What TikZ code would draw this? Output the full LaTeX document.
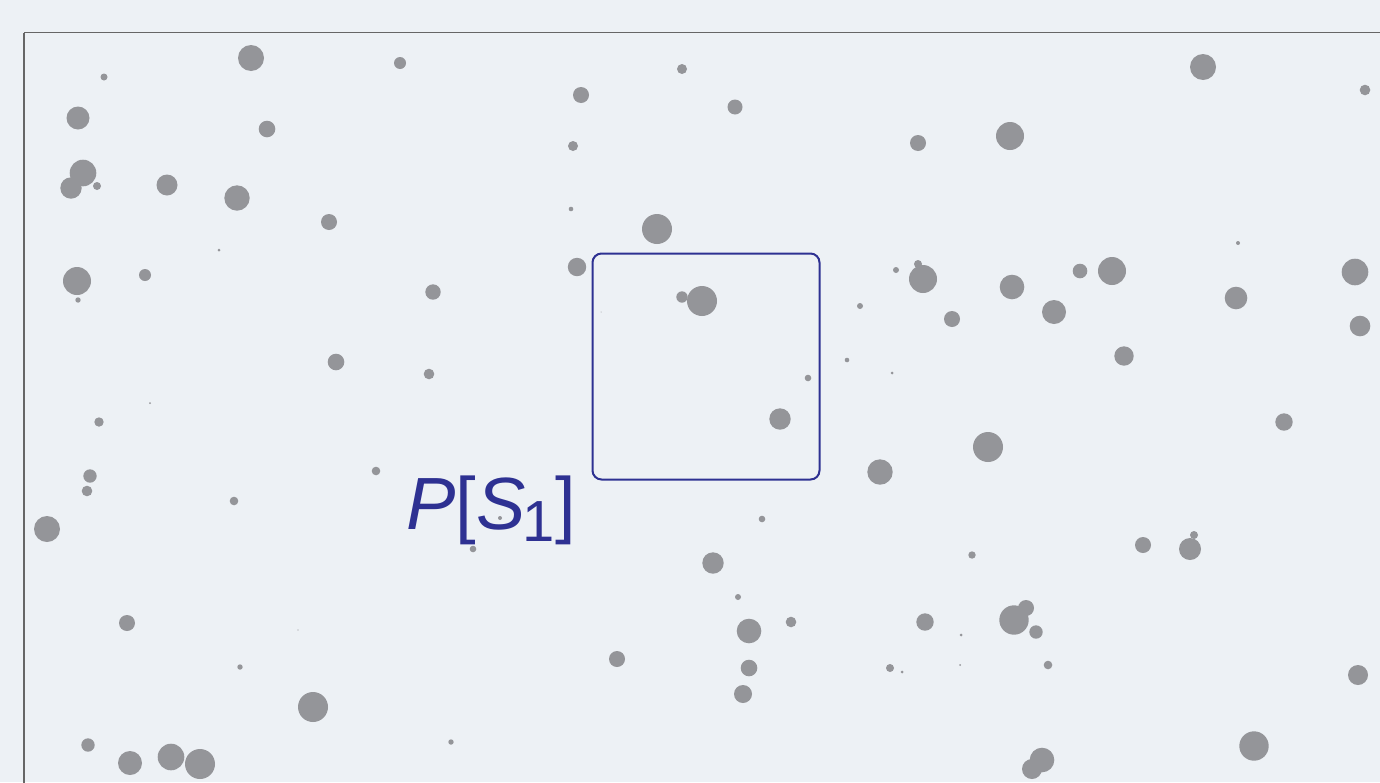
\documentclass[tikz,border=0pt]{standalone}
\usepackage{fontspec}
\setmainfont{Liberation Sans}
\usepackage{xcolor}
\usepackage{tikz}
\usetikzlibrary{positioning}

\definecolor{paper}{HTML}{EDF1F5}
\definecolor{dotgray}{HTML}{949599}
\definecolor{framegray}{HTML}{666666}
\definecolor{setblue}{HTML}{2E3192}

\begin{document}
\begin{tikzpicture}[
			x=1pt, y=-1pt,
			dot/.style={fill=dotgray},
			frame/.style={draw=framegray, line width=1.3pt},
			region/.style={draw=setblue, line width=2pt, rounded corners=9pt, inner sep=0pt},
			setlabel/.style={text=setblue, inner sep=0pt, anchor=base west, font=\fontsize{74}{80}\selectfont}
			]
			\useasboundingbox[fill=paper] (0,0) rectangle (1380,782);
			\draw[frame] (24,32.5) -- (1400,32.5);
			\draw[frame] (24,32.5) -- (24,800);
			
			% the points
			\foreach \x/\y/\r in {
				104/77/3.5, 251/58/13, 400/63/6, 78/118/11.5, 267/129/8.3,
				83/173/13.3, 71/188/10.7, 97/186/4, 167/185/10.5, 237/198/12.7,
				329/222/8, 219/250/1.5, 77/281/14, 78/300/2.7, 145/275/6,
				433/292/7.7, 336/362/8.3, 429/374/5.3,
				682/69/5, 581/95/8, 735/107/7.5, 573/146/5, 571/209/2.3,
				657/229/15, 577/267/9.2, 702/301/15, 682/297/5.7, 601/312/0.5,
				808/378/3.3, 860/306/3, 896/270/3, 847/360/2.3, 892/373/1.5,
				1203/67/13, 1365/90/5.3, 1010/136/14, 918/143/8, 1238/243/2,
				1112/271/14, 1080/271/7.3, 923/279/14, 918/264/4, 1012/287/12.3,
				952/319/8, 1054/312/12, 1236/298/11.3, 1355/272/13.3, 1360/326/10.3,
				1124/356/9.7,
				150/403/1, 99/422/4.7, 90/476/6.7, 87/491/5.3, 47/529/13,
				234/501/4.3, 376/471/4.3, 127/623/8, 298/630/0.6, 240/667/2.7,
				313/707/15, 451/742/2.7, 88/745/6.7, 130/763/12, 171/757/13.3,
				200/764/15,
				780/419/10.7, 880/472/12.7, 762/519/3.3, 500/518/2, 473/549/3.3,
				713/563/10.7, 738/597/3, 749/631/12.3, 791/622/5.3, 617/659/8,
				749/668/8.3, 743/694/9, 890/668/4, 902/672/1.5,
				988/447/15, 1284/422/8.7, 972/555/3.7, 1143/545/8, 1190/549/11,
				1194/535/4, 925/622/8.7, 1014/620/14.7, 1026/608/8, 1036/632/6.7,
				961/635/1.5, 960/665/1, 1048/665/4.3, 1358/675/10, 1254/746/14.7,
				1042/760/12.3, 1032/769/10}
				\fill[dot] (\x,\y) circle[radius=\r pt];
			
			\node[region, minimum width=227pt, minimum height=226pt, anchor=north west] (s1) at (591.5,252.5) {};
			\node[setlabel] (lbl) at (406,529) {\itshape P\upshape[\itshape S\upshape\kern-3pt\makebox[33pt][l]{\raisebox{-12pt}{\fontsize{58}{60}\selectfont 1}}]};
		\end{tikzpicture}
\end{document}
